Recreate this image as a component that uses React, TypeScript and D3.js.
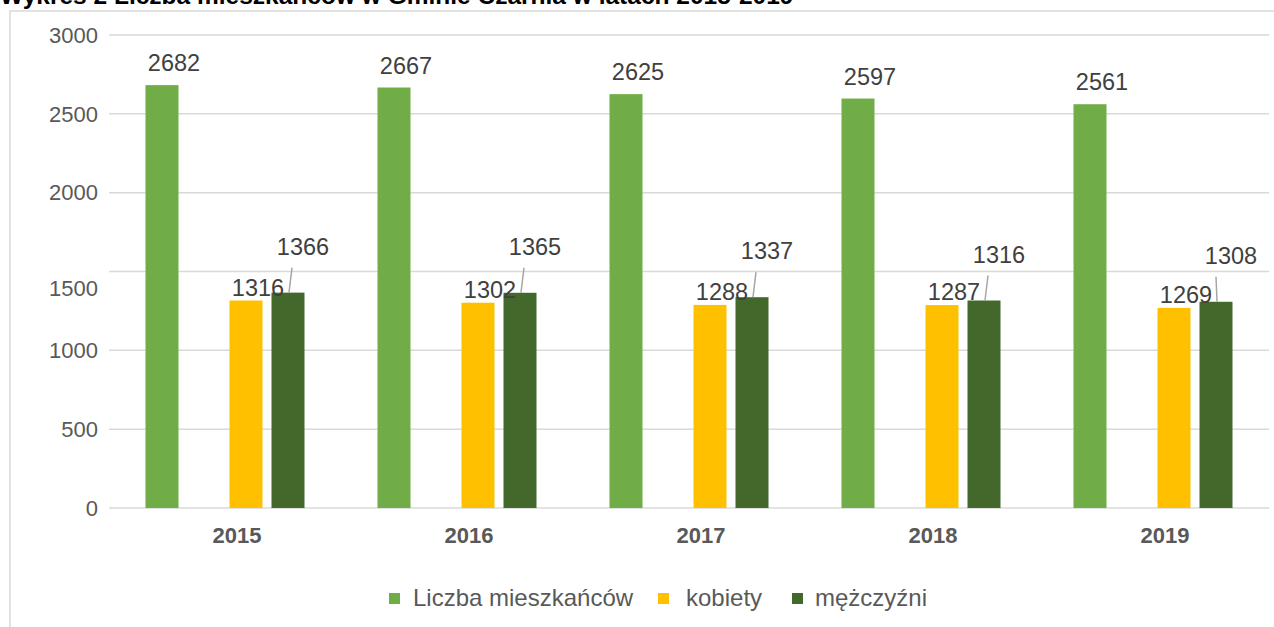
import React from "react"
import * as d3 from "d3"

const width = 1274
const height = 627
const font = "'Liberation Sans', Arial, sans-serif"

const years = ["2015", "2016", "2017", "2018", "2019"]
const total = [2682, 2667, 2625, 2597, 2561]
const women = [1316, 1302, 1288, 1287, 1269]
const men = [1366, 1365, 1337, 1316, 1308]
const seriesNames = ["Liczba mieszkańców", "kobiety", "mężczyźni"]
const colors = ["#70ad47", "#ffc000", "#43682b"]
const yTicks = [0, 500, 1000, 1500, 2000, 2500, 3000]

const left = 109
const right = 1269
const top = 35
const bottom = 508
const textShift = 12

const x = d3.scaleBand().domain(years).range([left, right])
// four slots per year, the second one is empty in the original
const slot = d3.scaleBand().domain(["total", "gap", "women", "men"]).range([0, 168])
const y = d3.scaleLinear().domain([0, 3000]).range([bottom, top])
const barW = 33

const barX = (year: string, key: string) =>
  (x(year) as number) + (x.bandwidth() - 168) / 2 + (slot(key) as number) + (slot.bandwidth() - barW) / 2

const App = () => {
  const series = [
    { key: "total", values: total, color: colors[0] },
    { key: "women", values: women, color: colors[1] },
    { key: "men", values: men, color: colors[2] },
  ]
  const legendX = [389, 658, 792]
  const legendTextX = [413, 686, 815]

  return (
    <svg width={width} height={height}
      style={{ position: "absolute", left: 0, top: 0, background: "#fff" }}
      fontFamily={font}>
      <text x={0} y={4} fontSize={24.5} fontWeight="bold" fill="#000">
        Wykres 2 Liczba mieszkańców w Gminie Czarnia w latach 2015-2019
      </text>
      <rect x={10} y={11} width={1300} height={700} fill="none" stroke="#d9d9d9" strokeWidth={1.5} />

      {yTicks.map(t => (
        <g key={t}>
          <line x1={left} x2={right} y1={y(t)} y2={y(t)} stroke="#d9d9d9" strokeWidth={1.5} />
          <text x={98} y={y(t) + (t === 1500 ? 17 : 0)} dy="0.35em" textAnchor="end"
            fontSize={22} fill="#595959">{t}</text>
        </g>
      ))}

      {series.map(s => years.map((yr, i) => (
        <rect key={s.key + yr} x={barX(yr, s.key)} y={y(s.values[i])}
          width={barW} height={bottom - y(s.values[i])} fill={s.color} />
      )))}

      {years.map((yr, i) => {
        const gx = barX(yr, "total") + barW / 2
        const wx = barX(yr, "women") + barW / 2
        const mx = barX(yr, "men") + barW / 2
        const ty = y(total[i]) - 22
        const wy = y(women[i]) - 13
        const my = y(men[i]) - 46
        return (
          <g key={yr} fontSize={23.5} fill="#404040">
            <text x={gx + textShift} y={ty} dy="0.35em" textAnchor="middle">{total[i]}</text>
            <text x={wx + textShift} y={wy} dy="0.35em" textAnchor="middle">{women[i]}</text>
            <line x1={mx + 1} y1={y(men[i])} x2={mx + (i === 4 ? 0 : 4)} y2={my + 21}
              stroke="#a6a6a6" strokeWidth={1.5} />
            <text x={mx + textShift + 3} y={my} dy="0.35em" textAnchor="middle">{men[i]}</text>
            <text x={(x(yr) as number) + x.bandwidth() / 2 + textShift} y={535} dy="0.35em"
              textAnchor="middle" fontSize={22} fontWeight="bold" fill="#595959">{yr}</text>
          </g>
        )
      })}

      {seriesNames.map((n, i) => (
        <g key={n}>
          <rect x={legendX[i]} y={593} width={11} height={11} fill={colors[i]} />
          <text x={legendTextX[i]} y={598} dy="0.35em" fontSize={24} fill="#595959">{n}</text>
        </g>
      ))}
    </svg>
  )
}

export default App
